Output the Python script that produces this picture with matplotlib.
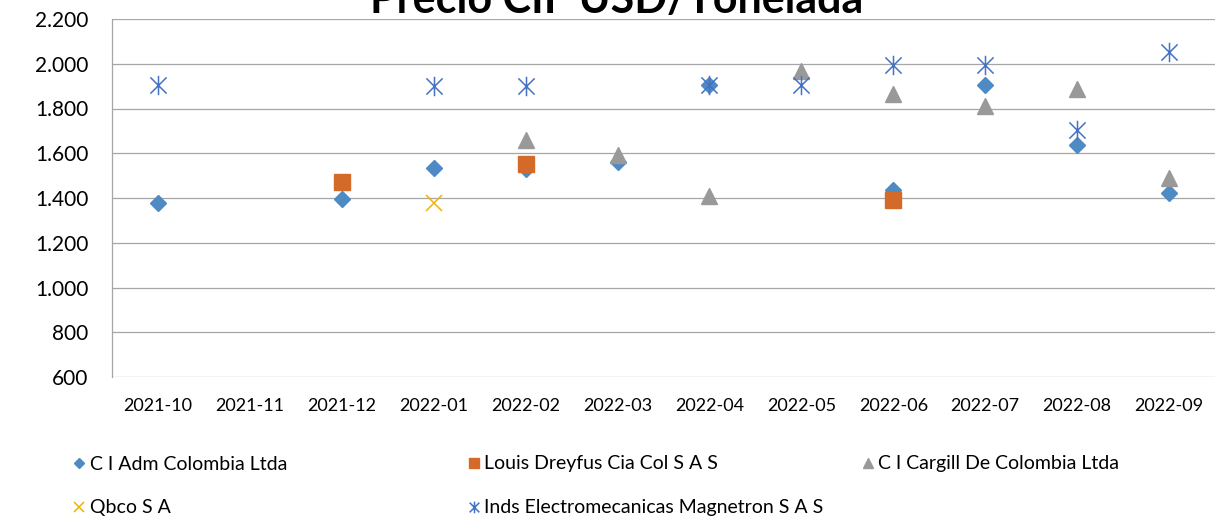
import matplotlib.pyplot as plt
import numpy as np
from matplotlib.path import Path
from matplotlib.ticker import FuncFormatter

plt.rcParams['font.family'] = ['Lato', 'DejaVu Sans']

nan = np.nan
months = ['2021-10', '2021-11', '2021-12', '2022-01', '2022-02', '2022-03',
          '2022-04', '2022-05', '2022-06', '2022-07', '2022-08', '2022-09']

adm = [1379, nan, 1394, 1536, 1530, 1563, 1905, nan, 1435, 1905, 1635, 1424]
louis = [nan, nan, 1471, nan, 1551, nan, nan, nan, 1391, nan, nan, nan]
cargill = [nan, nan, nan, nan, 1659, 1592, 1410, 1969, 1863, 1811, 1886, 1488]
qbco = [nan, nan, nan, 1379, nan, nan, nan, nan, nan, nan, nan, nan]
magnetron = [1905, nan, nan, 1900, 1900, nan, 1905, 1905, 1994, 1994, 1704, 2054]

names = ['C I Adm Colombia Ltda', 'Louis Dreyfus Cia Col S A S',
         'C I Cargill De Colombia Ltda', 'Qbco S A',
         'Inds Electromecanicas Magnetron S A S']

# asterisco tipo Excel: una x con una linea vertical
star = Path([(-0.5, -0.5), (0.5, 0.5), (-0.5, 0.5), (0.5, -0.5), (0, -0.6), (0, 0.6)],
            [Path.MOVETO, Path.LINETO, Path.MOVETO, Path.LINETO, Path.MOVETO, Path.LINETO])

W, H = 1221, 520
fig = plt.figure(figsize=(W / 100, H / 100), dpi=100)
ax = fig.add_axes([112 / W, 1 - 377 / H, (1215 - 112) / W, (377 - 19) / H])

x = np.arange(len(months))
h1, = ax.plot(x, adm, 'D', ms=8, color='#4e8ac4', mec='#4e8ac4', ls='none', label=names[0])
h2, = ax.plot(x, louis, 's', ms=11.5, color='#d46a2a', mec='#d46a2a', ls='none', label=names[1])
h3, = ax.plot(x, cargill, '^', ms=11.5, color='#999999', mec='#999999', ls='none', label=names[2])
h4, = ax.plot(x, qbco, 'x', ms=11, color='#f2b200', mew=1.1, ls='none', label=names[3])
h5, = ax.plot(x, magnetron, marker=star, ms=14, color='#4472c4', mfc='none', mew=1.1, ls='none', label=names[4])

ax.set_xlim(-0.5, len(months) - 0.5)
ax.set_ylim(600, 2200)
ax.set_yticks(np.arange(600, 2201, 200))
ax.yaxis.set_major_formatter(FuncFormatter(lambda v, p: f'{int(v):,}'.replace(',', '.')))
ax.set_xticks(x)
ax.set_xticklabels(months)
ax.tick_params(axis='y', length=0, pad=17, labelsize=15)
ax.tick_params(axis='x', length=0, pad=15, labelsize=13)
ax.grid(axis='y', color='#a6a6a6', linewidth=0.9)
ax.set_axisbelow(True)
for s in ['top', 'right', 'bottom']:
    ax.spines[s].set_visible(False)
ax.spines['left'].set_color('#a6a6a6')
ax.spines['left'].set_linewidth(0.9)

fig.text(617 / W, 1 - 13 / H, 'Precio CIF USD/Tonelada', ha='center', va='baseline',
         fontsize=31, fontweight='bold')

# leyenda en dos filas, tres columnas
spots = [(72, 464), (467, 464), (861, 464), (72, 508), (467, 508)]
for h, (lx, ly) in zip([h1, h2, h3, h4, h5], spots):
    fig.legend(handles=[h], loc='center left', bbox_to_anchor=(lx / W, 1 - ly / H),
               frameon=False, borderpad=0, borderaxespad=0, handlelength=0.75,
               handletextpad=0.15, markerscale=0.6, fontsize=14)

plt.savefig('out.png', dpi=100)
